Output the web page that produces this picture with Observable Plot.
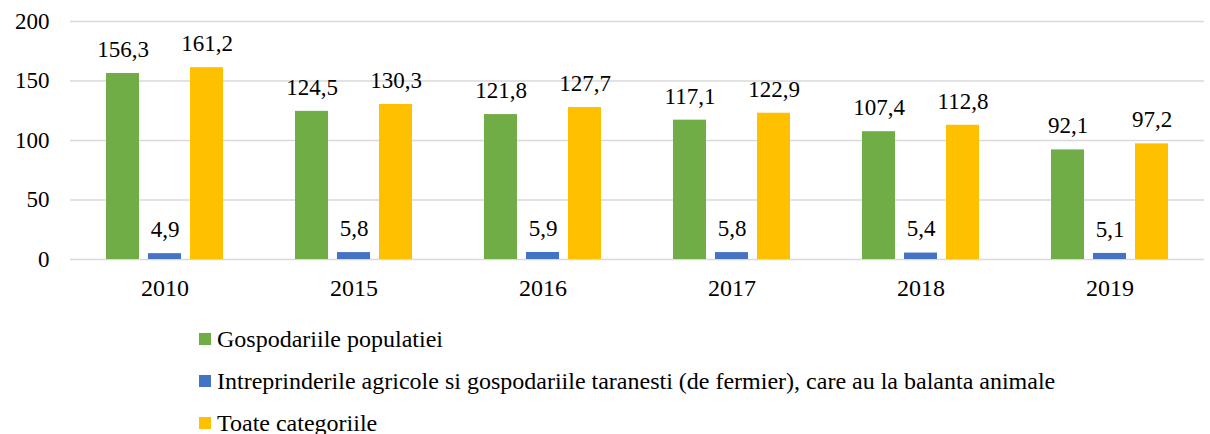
<!DOCTYPE html>
<html>
<head>
<meta charset="utf-8">
<script src="https://cdn.jsdelivr.net/npm/d3@7"></script>
<script src="https://cdn.jsdelivr.net/npm/@observablehq/plot@0.6"></script>
<style>
  body { margin: 0; background: #fff; }
  #chart svg { display: block; }
</style>
</head>
<body>
<div id="chart"></div>
<div id="legend" style="padding-left:199px;padding-top:13px;font-family:'Liberation Serif';"></div>
<script>
const years = ["2010", "2015", "2016", "2017", "2018", "2019"];
const seriesNames = [
  "Gospodariile populatiei",
  "Intreprinderile agricole si gospodariile taranesti (de fermier), care au la balanta animale",
  "Toate categoriile"
];
const populatie = [156.3, 124.5, 121.8, 117.1, 107.4, 92.1];
const intreprinderi = [4.9, 5.8, 5.9, 5.8, 5.4, 5.1];
const toate = [161.2, 130.3, 127.7, 122.9, 112.8, 97.2];
const colors = ["#70AD47", "#4472C4", "#FFC000"];
const yTicks = [0, 50, 100, 150, 200];

const valuesBySeries = [populatie, intreprinderi, toate];
const data = [];
years.forEach((yr, i) => {
  seriesNames.forEach((s, j) => {
    data.push({year: yr, series: s, value: valuesBySeries[j][i]});
  });
});
const fmt = v => v.toFixed(1).replace(".", ",");
const FONT = "'Liberation Serif'";

const chart = Plot.plot({
  width: 1210,
  height: 305,
  marginTop: 21,
  marginBottom: 46,
  marginLeft: 68,
  marginRight: 5,
  style: `font-family:${FONT};font-size:23px;color:#000;background:#fff;`,
  fx: {domain: years, padding: 0, label: null, axis: null},
  x: {domain: seriesNames, paddingInner: 0.22, paddingOuter: 0.84, axis: null},
  y: {domain: [0, 200], label: null, axis: null},
  color: {domain: seriesNames, range: colors},
  marks: [
    Plot.ruleY(yTicks, {stroke: "#d9d9d9", strokeWidth: 1.4}),
    Plot.axisY({ticks: yTicks, tickSize: 0, tickPadding: 21, label: null, fontSize: 23, fontFamily: FONT}),
    Plot.axisFx({anchor: "bottom", tickSize: 0, tickPadding: 19, label: null, fontSize: 24, fontFamily: FONT}),
    Plot.barY(data, {fx: "year", x: "series", y: "value", fill: "series"}),
    Plot.text(data, {fx: "year", x: "series", y: "value", text: d => fmt(d.value), dy: -24, fontSize: 23, fontFamily: FONT, fill: "#000"})
  ]
});
document.getElementById("chart").appendChild(chart);

const legend = document.getElementById("legend");
seriesNames.forEach((s, j) => {
  const row = document.createElement("div");
  row.setAttribute("style", "height:42px;display:flex;align-items:center;font-size:24px;color:#000;font-family:'Liberation Serif';white-space:nowrap;");
  const sw = document.createElement("span");
  sw.setAttribute("style", `width:12px;height:12px;margin-right:6px;flex:none;background:${colors[j]};`);
  const t = document.createElement("span");
  t.textContent = s;
  row.appendChild(sw);
  row.appendChild(t);
  legend.appendChild(row);
});
</script>
</body>
</html>
